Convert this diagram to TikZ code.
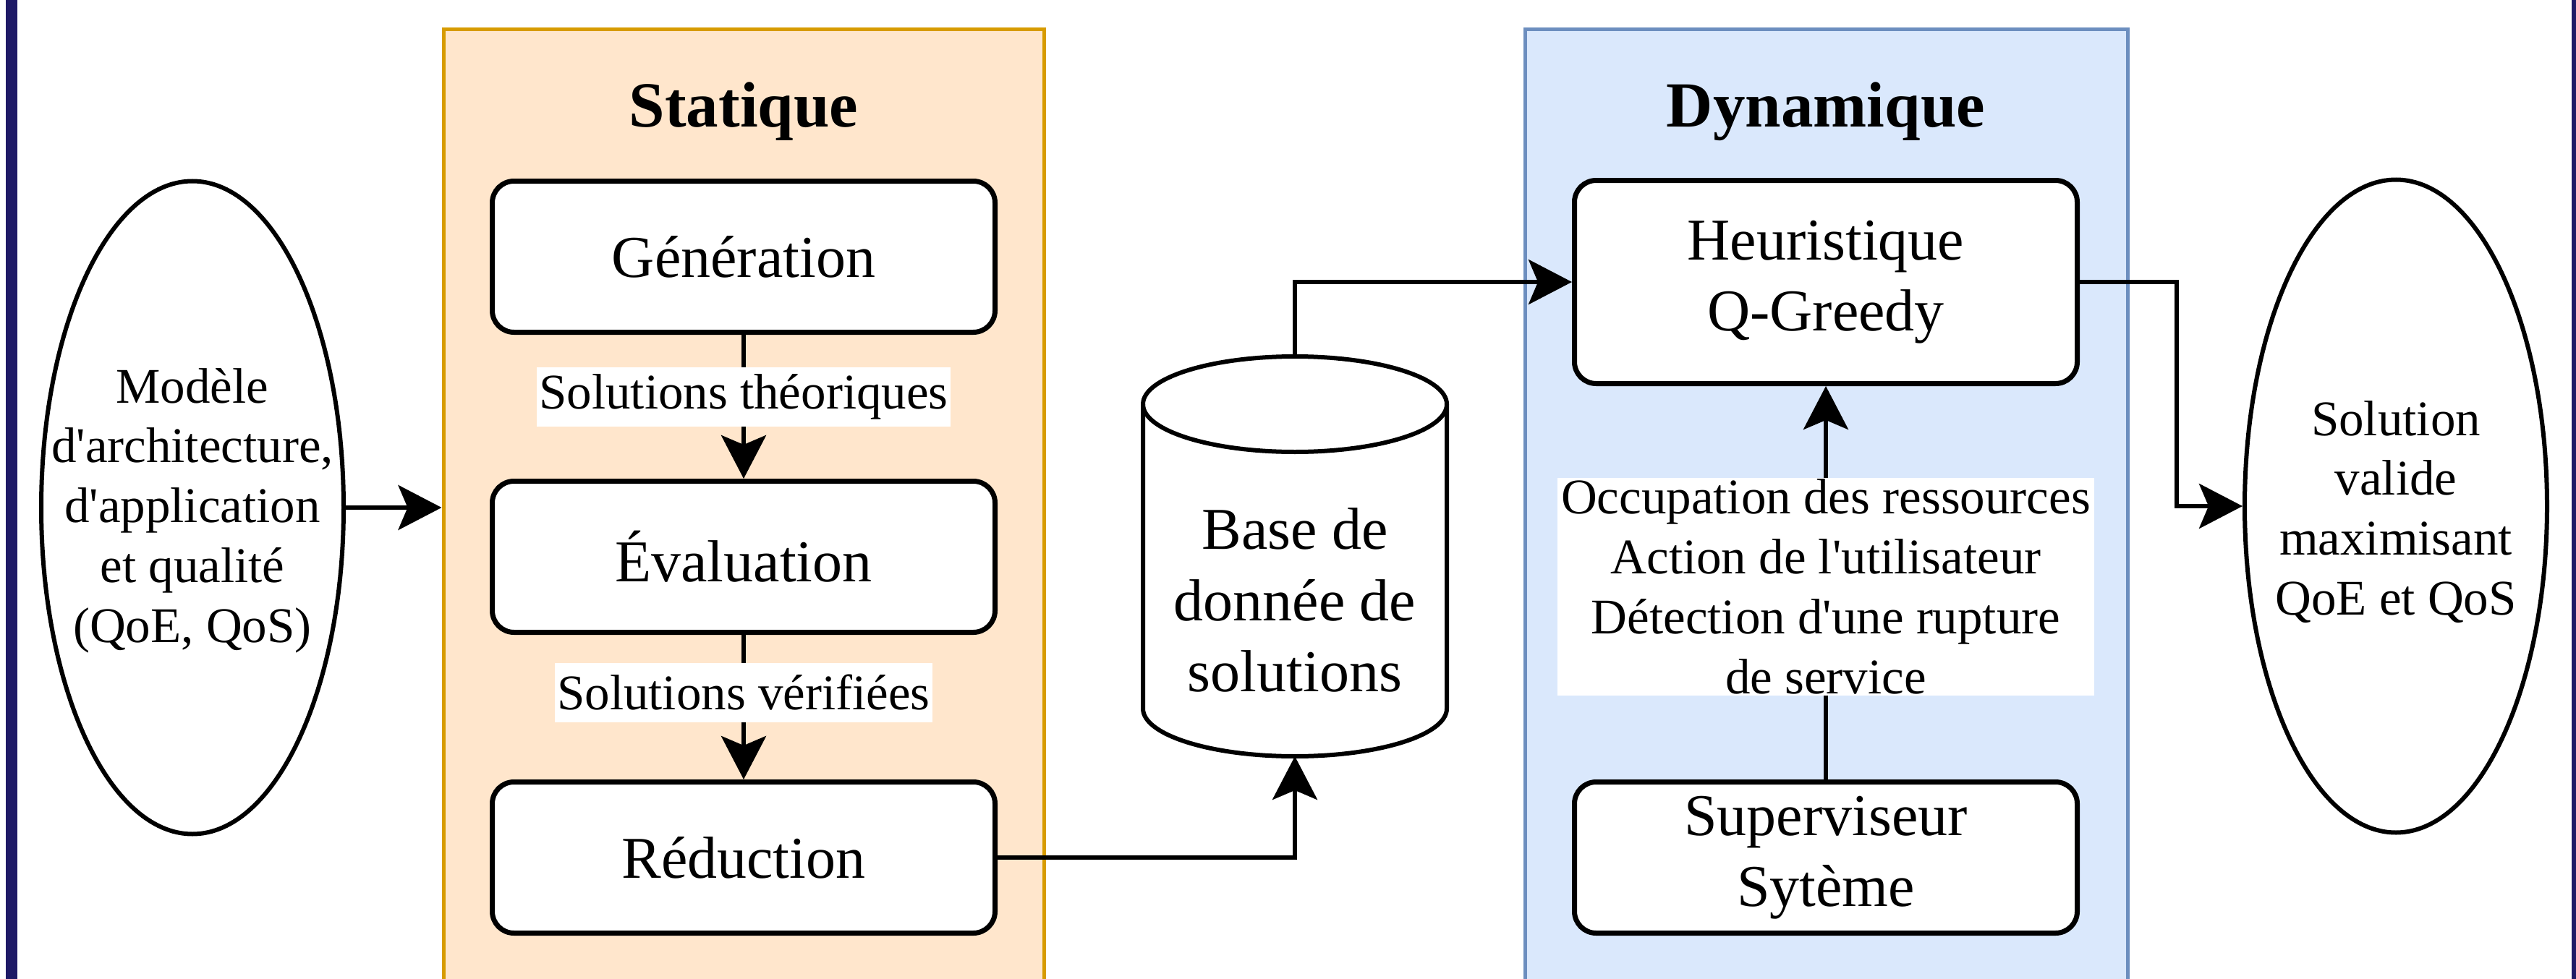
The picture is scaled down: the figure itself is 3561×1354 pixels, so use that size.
\documentclass[tikz,border=0pt]{standalone}
\usepackage{fontspec}
\setmainfont{Liberation Serif}
\usetikzlibrary{arrows.meta,shapes.geometric,calc}
\definecolor{navybar}{HTML}{1E1A66}
\definecolor{orfill}{HTML}{FFE6CC}
\definecolor{ordraw}{HTML}{D79B00}
\definecolor{blfill}{HTML}{DAE8FC}
\definecolor{bldraw}{HTML}{6C8EBF}
\newcommand\apos{\textquotesingle}
\begin{document}
\begin{tikzpicture}[x=0.5pt,y=-0.5pt,
  stepbox/.style={draw, line width=3.5pt, rounded corners=15pt, fill=white,
    minimum width=347.5pt, minimum height=104.5pt, inner sep=0pt,
    font=\fontsize{41}{49.2}\selectfont, align=center},
  oval/.style={draw, ellipse, line width=3pt, fill=white, inner sep=0pt,
    minimum width=209pt, minimum height=451.5pt},
  ovaltext/.style={font=\fontsize{34.5}{41.4}\selectfont, align=center, inner sep=0pt},
  container/.style={line width=2.5pt, inner sep=0pt, minimum width=415pt, minimum height=680pt},
  title/.style={font=\fontsize{44.5}{53}\selectfont\bfseries},
  lab/.style={fill=white, font=\fontsize{34.5}{41.4}\selectfont, align=center,
    inner xsep=1.5pt, inner ysep=0pt, minimum height=41pt},
  arr/.style={line width=3pt, -{Stealth[length=30pt, width=31pt, inset=6.5pt]}},
  conn/.style={line width=3pt}
]
\useasboundingbox (0,0) rectangle (3561,1354);
\fill[white] (0,0) rectangle (3561,1354);
\begin{scope}
  \clip (0,0) rectangle (3561,1354);
  \node[container, draw=ordraw, fill=orfill] (stat) at (1028,721) {};
  \node[container, draw=bldraw, fill=blfill, minimum width=416.5pt] (dyn) at (2524.5,721) {};
\end{scope}
\fill[navybar] (8,0) rectangle (24,1354);
\fill[navybar] (3555,0) rectangle (3561,1354);

\node[title] (stattitle) at (1028,154) {Statique};
\node[title] (dyntitle) at (2524,154) {Dynamique};

\node[stepbox] (gen) at (1028,355) {Génération};
\node[stepbox] (eval) at (1028,770) {Évaluation};
\node[stepbox] (red) at (1028,1186) {Réduction};

\node[stepbox, minimum height=140.5pt] (heur) at (2524,390) {Heuristique\\Q-Greedy};
\node[stepbox] (sup) at (2524,1186) {Superviseur\\Sytème};

\node[oval] (lell) at (266,702) {};
\node[ovaltext] (lelltext) at (266,706) {Modèle\\d\apos architecture,\\d\apos application\\et qualité\\(QoE, QoS)};
\node[oval] (rell) at (3312,700) {};
\node[ovaltext] (relltext) at (3312,708) {Solution\\valide\\maximisant\\QoE et QoS};

% database cylinder
\node[inner sep=0pt, outer sep=0pt, minimum width=210pt, minimum height=276.5pt] (db) at (1790,769.5) {};
\draw[line width=3pt, fill=white] (1580,559) -- (1580,980)
  arc[start angle=180, end angle=0, x radius=210, y radius=66]
  -- (2000,559)
  arc[start angle=0, end angle=-180, x radius=210, y radius=66] -- cycle;
\draw[line width=3pt] (1580,559) arc[start angle=180, end angle=0, x radius=210, y radius=66];
\node[font=\fontsize{41}{49.2}\selectfont, align=center] (dbtext) at (1790,830) {Base de\\donnée de\\solutions};

\coordinate (bend) at (3009,390);

\draw[arr] (lell.east) -- (lell.east -| stat.west);
\draw[arr] (gen.south) -- node[lab, pos=0.43] (l1) {Solutions théoriques} (eval.north);
\draw[arr] (eval.south) -- node[lab, pos=0.40] (l2) {Solutions vérifiées} (red.north);
\draw[arr] (red.east) -| (db.south);
\draw[arr] (db.north) |- (heur.west);
\draw[arr] (heur.east) -- (bend) |- (rell.west);
\draw[arr] (sup.north) -- node[lab, pos=0.49, inner xsep=2.5pt, inner ysep=1pt] (l3) {Occupation des ressources\\Action de l\apos utilisateur\\Détection d\apos une rupture\\de service} (heur.south);
\end{tikzpicture}
\end{document}
